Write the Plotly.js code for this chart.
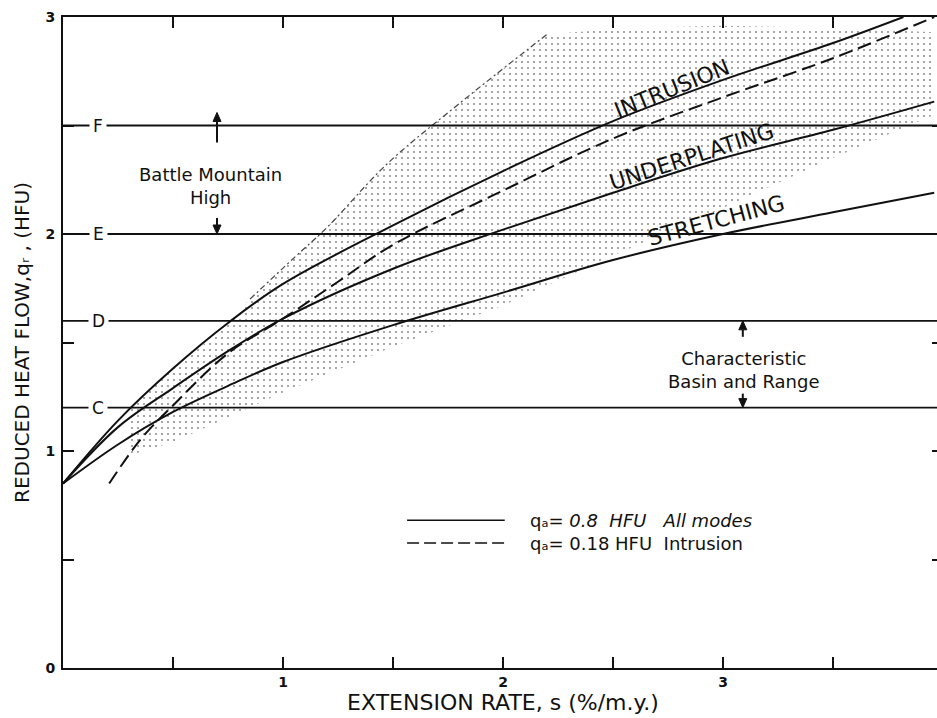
<!DOCTYPE html>
<html>
<head>
<meta charset="utf-8">
<script src="https://cdn.plot.ly/plotly-3.0.1.min.js"></script>
<style>
  html, body { margin: 0; padding: 0; background: #fff; overflow: hidden; }
  #chart { width: 946px; height: 718px; }
</style>
</head>
<body>
<div id="chart"></div>
<script>
// Reduced heat flow versus extension rate for three modes of crustal extension.

// Solid curves (q_a = 0.8 HFU, all modes)
const intrusionRate    = [0, 0.25, 0.5, 0.75, 1.0, 1.5, 2.0, 2.5, 3.0, 3.5, 3.82];
const intrusionFlow    = [0.85, 1.14, 1.38, 1.59, 1.77, 2.04, 2.29, 2.52, 2.71, 2.88, 3.0];
const underplatingRate = [0, 0.25, 0.5, 0.75, 1.0, 1.5, 2.0, 2.5, 3.0, 3.5, 3.96];
const underplatingFlow = [0.85, 1.11, 1.29, 1.46, 1.61, 1.84, 2.02, 2.19, 2.35, 2.48, 2.61];
const stretchingRate   = [0, 0.25, 0.5, 0.75, 1.0, 1.5, 2.0, 2.5, 3.0, 3.5, 3.96];
const stretchingFlow   = [0.85, 1.03, 1.18, 1.30, 1.41, 1.58, 1.73, 1.88, 2.00, 2.10, 2.19];

// Dashed curve (q_a = 0.18 HFU, intrusion)
const intrusionLowRate = [0.21, 0.35, 0.5, 0.75, 1.0, 1.25, 1.5, 2.0, 2.5, 3.0, 3.5, 3.96];
const intrusionLowFlow = [0.85, 1.05, 1.21, 1.45, 1.61, 1.78, 1.95, 2.20, 2.44, 2.63, 2.81, 3.0];

// Stippled field of observed values: lower and upper edges
const fieldLowRate  = [0.3, 0.5, 1.0, 1.5, 2.0, 2.5, 3.0, 3.5, 3.96];
const fieldLowFlow  = [0.98, 1.04, 1.27, 1.48, 1.67, 1.90, 2.12, 2.35, 2.55];
const fieldHighRate = [0.3, 0.5, 0.7, 0.85, 1.05, 1.2, 1.47, 1.8, 2.2, 2.6, 3.0, 3.5, 3.96];
const fieldHighFlow = [1.19, 1.38, 1.54, 1.70, 1.89, 2.03, 2.32, 2.60, 2.92, 2.95, 2.96, 2.95, 2.93];

// Reference heat-flow levels
const levelLabels = ['F', 'E', 'D', 'C'];
const levelValues = [2.5, 2.0, 1.6, 1.2];

// Mode labels
const modeNames = ['INTRUSION', 'UNDERPLATING', 'STRETCHING'];

// Axis tick labels (minor ticks every 0.5)
const xTickVals = [1, 2, 3, 4];
const xTickText = ['1', '2', '3', '4'];
const yTickVals = [0, 1, 2, 3];
const yTickText = ['0', '1', '2', '3'];

const FONT = 'DejaVu Sans, Liberation Sans, sans-serif';
const INK = '#111';

// pixel scale of the plot area (880 x 651 px for 4 x 3 units)
const PX_X = 4 / 880;
const PX_Y = 3 / 651;

const fieldX = fieldLowRate.concat(fieldHighRate.slice().reverse());
const fieldY = fieldLowFlow.concat(fieldHighFlow.slice().reverse());

const traces = [
  {
    x: fieldX, y: fieldY, mode: 'lines', fill: 'toself',
    line: { width: 0, color: 'rgba(0,0,0,0)' },
    fillcolor: 'rgba(0,0,0,0)',
    fillpattern: { shape: '.', size: 6, solidity: 0.06, fgcolor: '#333', bgcolor: 'rgba(0,0,0,0)' },
    hoverinfo: 'skip', showlegend: false
  },
  {
    x: fieldHighRate.slice(3, 9), y: fieldHighFlow.slice(3, 9), mode: 'lines',
    line: { color: '#444', width: 1.2, dash: '6px,3px,2px,3px', shape: 'spline' },
    hoverinfo: 'skip', showlegend: false
  },
  {
    x: intrusionRate, y: intrusionFlow, mode: 'lines', name: modeNames[0],
    line: { color: INK, width: 2, shape: 'spline', smoothing: 1 }, showlegend: false
  },
  {
    x: underplatingRate, y: underplatingFlow, mode: 'lines', name: modeNames[1],
    line: { color: INK, width: 2, shape: 'spline', smoothing: 1 }, showlegend: false
  },
  {
    x: stretchingRate, y: stretchingFlow, mode: 'lines', name: modeNames[2],
    line: { color: INK, width: 2, shape: 'spline', smoothing: 1 }, showlegend: false
  },
  {
    x: intrusionLowRate, y: intrusionLowFlow, mode: 'lines', name: 'Intrusion, q_a = 0.18',
    line: { color: INK, width: 2, shape: 'spline', smoothing: 1, dash: '14px,6px' }, showlegend: false
  }
];

const shapes = levelValues.map(v => ({
  type: 'line', xref: 'paper', x0: 0, x1: 1, yref: 'y', y0: v, y1: v,
  line: { color: INK, width: 1.8 }, layer: 'above'
}));

// Line-style key
shapes.push(
  { type: 'line', xref: 'paper', yref: 'paper', x0: 0.391, x1: 0.502, y0: 0.227, y1: 0.227,
    line: { color: INK, width: 1.5 } },
  { type: 'line', xref: 'paper', yref: 'paper', x0: 0.391, x1: 0.502, y0: 0.192, y1: 0.192,
    line: { color: INK, width: 1.5, dash: '12px,5px' } }
);

// Vertical pointer arrows: shaft plus filled head, tip at (x, y), dir +1 up / -1 down
function pointer(x, y, lenPx, dir) {
  const tail = y - dir * lenPx * PX_Y;
  const headH = 9 * PX_Y, headW = 4 * PX_X;
  const base = y - dir * headH;
  return [
    { type: 'line', xref: 'x', yref: 'y', x0: x, x1: x, y0: tail, y1: base,
      line: { color: INK, width: 2 }, layer: 'above' },
    { type: 'path', xref: 'x', yref: 'y', layer: 'above',
      path: `M ${x},${y} L ${x - headW},${base} L ${x + headW},${base} Z`,
      fillcolor: INK, line: { color: INK, width: 1 } }
  ];
}
shapes.push(
  ...pointer(0.70, 2.56, 30, 1),
  ...pointer(0.70, 2.0, 16, -1),
  ...pointer(3.09, 1.6, 16, 1),
  ...pointer(3.09, 1.2, 14, -1)
);

const annotations = [];

levelLabels.forEach((lab, i) => {
  annotations.push({
    x: 0.16, y: levelValues[i], xref: 'x', yref: 'y', text: lab, showarrow: false,
    font: { family: FONT, size: 17, color: INK }, bgcolor: '#fff', borderpad: 3
  });
});

annotations.push(
  { x: 0.67, y: 2.22, xref: 'x', yref: 'y', text: 'Battle Mountain<br>High', showarrow: false,
    font: { family: FONT, size: 18, color: INK }, align: 'center' },
  { x: 3.095, y: 1.375, xref: 'x', yref: 'y', text: 'Characteristic<br>Basin and Range', showarrow: false,
    font: { family: FONT, size: 18, color: INK }, align: 'center' }
);

const modeLabelPos = [
  { x: 2.77, y: 2.67, angle: -22 },
  { x: 2.86, y: 2.355, angle: -18 },
  { x: 2.97, y: 2.06, angle: -15 }
];
modeNames.forEach((name, i) => {
  const p = modeLabelPos[i];
  annotations.push({
    x: p.x, y: p.y, xref: 'x', yref: 'y', text: name, showarrow: false, textangle: p.angle,
    font: { family: FONT, size: 22, color: INK }
  });
});

annotations.push(
  { x: 0.528, y: 0.227, xref: 'paper', yref: 'paper', xanchor: 'left', yanchor: 'middle', showarrow: false,
    text: 'q\u2090= <i>0.8&nbsp;&nbsp;HFU&nbsp;&nbsp;&nbsp;All modes</i>',
    font: { family: FONT, size: 18, color: INK } },
  { x: 0.528, y: 0.192, xref: 'paper', yref: 'paper', xanchor: 'left', yanchor: 'middle', showarrow: false,
    text: 'q\u2090= 0.18 HFU&nbsp;&nbsp;Intrusion',
    font: { family: FONT, size: 18, color: INK } }
);

const axisCommon = {
  showgrid: false, zeroline: false, showline: true, linecolor: INK, linewidth: 2,
  mirror: 'ticks', ticks: 'inside', ticklen: 11, tickwidth: 2, tickcolor: INK,
  tickmode: 'array', fixedrange: true,
  minor: { dtick: 0.5, tick0: 0, ticks: 'inside', ticklen: 11, tickwidth: 2, tickcolor: INK, showgrid: false }
};

const layout = {
  width: 946, height: 718,
  margin: { l: 63, r: 3, t: 17, b: 50 },
  paper_bgcolor: '#fff', plot_bgcolor: '#fff',
  showlegend: false,
  font: { family: FONT, color: INK },
  xaxis: Object.assign({}, axisCommon, {
    range: [0, 4], tickvals: xTickVals, ticktext: xTickText,
    tickfont: { family: FONT, size: 14, color: INK, weight: 'bold' },
    title: { text: 'EXTENSION RATE, s (%/m.y.)', font: { family: FONT, size: 22, color: INK }, standoff: 5 }
  }),
  yaxis: Object.assign({}, axisCommon, {
    range: [0, 3], tickvals: yTickVals, ticktext: yTickText,
    tickfont: { family: FONT, size: 14, color: INK, weight: 'bold' },
    ticklabelstandoff: 3,
    title: { text: 'REDUCED HEAT FLOW,q\u1D63 , (HFU)', font: { family: FONT, size: 20, color: INK }, standoff: 10 }
  }),
  shapes: shapes,
  annotations: annotations
};

Plotly.newPlot('chart', traces, layout, { displayModeBar: false, staticPlot: true });
</script>
</body>
</html>
